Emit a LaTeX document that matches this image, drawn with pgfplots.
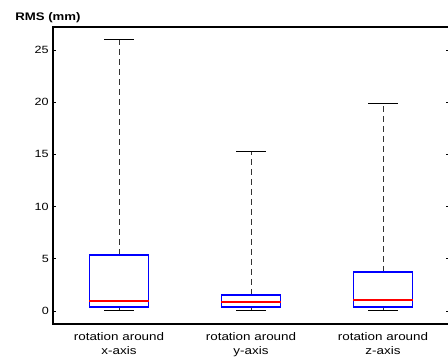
\documentclass[border=0pt]{standalone}
\usepackage{graphicx}
\usepackage{pgfplots}
\pgfplotsset{compat=1.18}
\usepgfplotslibrary{statistics}
\usepackage{fontspec}
\setmainfont{Liberation Sans}
\begin{document}
\begin{tikzpicture}
\begin{axis}[
  scale only axis,
  width=396pt, height=297pt,
  xmin=0.5, xmax=3.5,
  ymin=-1.25, ymax=27.2,
  axis line style={black, line width=1.2pt},
  xtick={1,2,3},
  xticklabels={{rotation around\\x-axis},{rotation around\\y-axis},{rotation around\\z-axis}},
  xticklabel style={align=center, font=\fontsize{11}{14.5}\selectfont, xscale=1.22, yshift=-5pt},
  x tick style={draw=none},
  ytick={0,5,10,15,20,25},
  yticklabel style={font=\fontsize{10.5}{13}\selectfont, xscale=1.2},
  y tick style={black, line width=0.6pt},
  major tick length=3pt,
  tick align=inside,
  /pgf/number format/assume math mode=true,
  title={\scalebox{1.2}[1]{\bfseries RMS (mm)}},
  title style={at={(rel axis cs:0,1)}, anchor=base, xshift=-5pt, yshift=0pt, font=\fontsize{11}{13}\selectfont},
  boxplot/draw direction=y,
  boxplot/box extend=0.45,
  boxplot/every box/.style={draw=blue, line width=1.3pt},
  boxplot/every median/.style={draw=red, line width=1.3pt},
  boxplot/draw/lower whisker/.code={%
    \draw[black!80, line width=0.7pt, dash pattern=on 6pt off 4pt]
      (boxplot box cs:\pgfkeysvalueof{/pgfplots/boxplot/lower quartile},0.5) --
      (boxplot box cs:\pgfkeysvalueof{/pgfplots/boxplot/lower whisker},0.5);
    \draw[black, line width=0.9pt]
      (boxplot box cs:\pgfkeysvalueof{/pgfplots/boxplot/lower whisker},0.25) --
      (boxplot box cs:\pgfkeysvalueof{/pgfplots/boxplot/lower whisker},0.75);
  },
  boxplot/draw/upper whisker/.code={%
    \draw[black!80, line width=0.7pt, dash pattern=on 6pt off 4pt]
      (boxplot box cs:\pgfkeysvalueof{/pgfplots/boxplot/upper quartile},0.5) --
      (boxplot box cs:\pgfkeysvalueof{/pgfplots/boxplot/upper whisker},0.5);
    \draw[black, line width=0.9pt]
      (boxplot box cs:\pgfkeysvalueof{/pgfplots/boxplot/upper whisker},0.25) --
      (boxplot box cs:\pgfkeysvalueof{/pgfplots/boxplot/upper whisker},0.75);
  },
]
\addplot[draw=blue, boxplot prepared={draw position=1, lower whisker=0, lower quartile=0.38, median=0.96, upper quartile=5.36, upper whisker=25.96}] coordinates {};
\addplot[draw=blue, boxplot prepared={draw position=2, lower whisker=0, lower quartile=0.38, median=0.86, upper quartile=1.53, upper whisker=15.25}] coordinates {};
\addplot[draw=blue, boxplot prepared={draw position=3, lower whisker=0, lower quartile=0.38, median=1.05, upper quartile=3.74, upper whisker=19.92}] coordinates {};
\end{axis}
\pgfresetboundingbox
\path[use as bounding box] ([xshift=-53pt,yshift=-34pt]current axis.south west) rectangle ([xshift=395pt,yshift=27pt]current axis.north west);
\end{tikzpicture}
\end{document}
